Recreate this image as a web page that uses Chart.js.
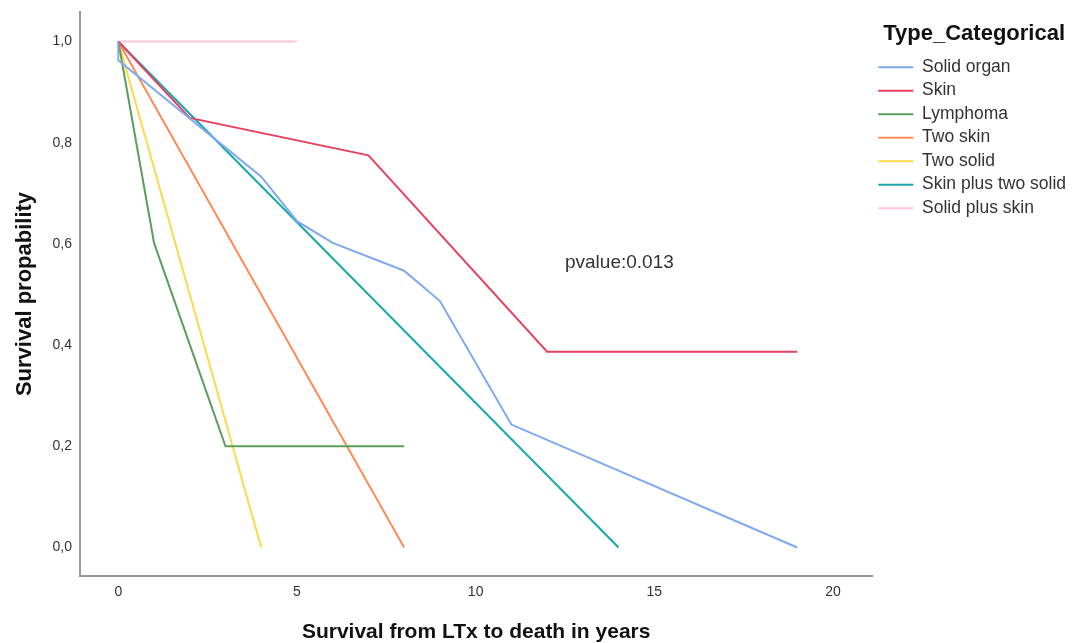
<!DOCTYPE html>
<html>
<head>
<meta charset="utf-8">
<script src="https://cdn.jsdelivr.net/npm/chart.js@4/dist/chart.umd.min.js"></script>
<style>
  html, body { margin: 0; padding: 0; background: #fff; }
</style>
</head>
<body>
<canvas id="survival" width="1077" height="643"></canvas>
<script>
/* eslint-disable no-undef */
const seriesNames = ['Solid organ', 'Skin', 'Lymphoma', 'Two skin', 'Two solid', 'Skin plus two solid', 'Solid plus skin'];
const seriesColors = ['#7ea9f2', '#e8405f', '#5b9e5b', '#ff8a57', '#ffd84a', '#19a8a8', '#ffc7d6'];

// years since LTx / survival probability
const solidOrganX = [0, 0, 4, 5, 6, 8, 9, 11, 19];
const solidOrganY = [1, 0.963, 0.733, 0.645, 0.602, 0.547, 0.487, 0.243, 0];
const skinX = [0, 2, 7, 12, 19];
const skinY = [1, 0.849, 0.775, 0.387, 0.387];
const lymphomaX = [0, 1, 3, 8];
const lymphomaY = [1, 0.602, 0.2, 0.2];
const twoSkinX = [0, 8];
const twoSkinY = [1, 0];
const twoSolidX = [0, 4];
const twoSolidY = [1, 0];
const skinTwoSolidX = [0, 14];
const skinTwoSolidY = [1, 0];
const solidSkinX = [0, 5];
const solidSkinY = [1, 1];

const xTicks = [0, 5, 10, 15, 20];
const yTicks = [0, 0.2, 0.4, 0.6, 0.8, 1.0];
const pText = 'pvalue:0.013';
const pAt = [12.5, 0.562];

const allX = [solidOrganX, skinX, lymphomaX, twoSkinX, twoSolidX, skinTwoSolidX, solidSkinX];
const allY = [solidOrganY, skinY, lymphomaY, twoSkinY, twoSolidY, skinTwoSolidY, solidSkinY];

const FONT = 'Arial, "Liberation Sans", sans-serif';

const datasets = seriesNames.map((name, i) => ({
  label: name,
  data: allX[i].map((x, j) => ({ x: x, y: allY[i][j] })),
  borderColor: seriesColors[i],
  backgroundColor: seriesColors[i],
  borderWidth: 2,
  pointRadius: 0,
  tension: 0,
  fill: false,
}));

const pvalueLabel = {
  id: 'pvalueLabel',
  afterDatasetsDraw(chart) {
    const { ctx, scales } = chart;
    ctx.save();
    ctx.font = '19px ' + FONT;
    ctx.fillStyle = '#333';
    ctx.textAlign = 'left';
    ctx.textBaseline = 'middle';
    ctx.fillText(pText, scales.x.getPixelForValue(pAt[0]), scales.y.getPixelForValue(pAt[1]));
    ctx.restore();
  },
};

new Chart(document.getElementById('survival'), {
  type: 'line',
  data: { datasets: datasets },
  plugins: [pvalueLabel],
  options: {
    responsive: false,
    animation: false,
    layout: { padding: { left: 8, top: 12, right: 1, bottom: 0 } },
    plugins: {
      tooltip: { enabled: false },
      legend: {
        position: 'right',
        align: 'start',
        title: {
          display: true,
          text: 'Type_Categorical',
          color: '#111',
          position: 'center',
          font: { family: FONT, size: 22, weight: 'bold' },
          padding: { top: 11, bottom: 3 },
        },
        labels: {
          boxWidth: 35,
          boxHeight: 2,
          padding: 6,
          color: '#333',
          font: { family: FONT, size: 17.5 },
          generateLabels(chart) {
            return Chart.defaults.plugins.legend.labels.generateLabels(chart)
              .map(item => Object.assign(item, { lineWidth: 0 }));
          },
        },
      },
    },
    scales: {
      x: {
        type: 'linear',
        min: -1.072,
        max: 21.1,
        afterBuildTicks: s => { s.ticks = xTicks.map(v => ({ value: v })); },
        afterFit: s => { s.height = 67; },
        grid: { display: false, drawTicks: false },
        border: { display: true, color: '#999', width: 2 },
        ticks: { padding: 8, color: '#333', font: { family: FONT, size: 14 } },
        title: {
          display: true,
          text: 'Survival from LTx to death in years',
          color: '#111',
          padding: { top: 0, bottom: -2 },
          font: { family: FONT, size: 21, weight: 'bold' },
        },
      },
      y: {
        type: 'linear',
        min: -0.0563,
        max: 1.0583,
        afterBuildTicks: s => { s.ticks = yTicks.map(v => ({ value: v })); },
        afterFit: s => { s.width = 72; s.paddingTop = 0; s.paddingBottom = 0; },
        grid: { display: false, drawTicks: false },
        border: { display: true, color: '#999', width: 2 },
        ticks: {
          padding: 8,
          color: '#333',
          font: { family: FONT, size: 14 },
          callback: v => v.toFixed(1).replace('.', ','),
        },
        title: {
          display: true,
          text: 'Survival propability',
          color: '#111',
          padding: 4,
          font: { family: FONT, size: 22, weight: 'bold' },
        },
      },
    },
  },
});
</script>
</body>
</html>
